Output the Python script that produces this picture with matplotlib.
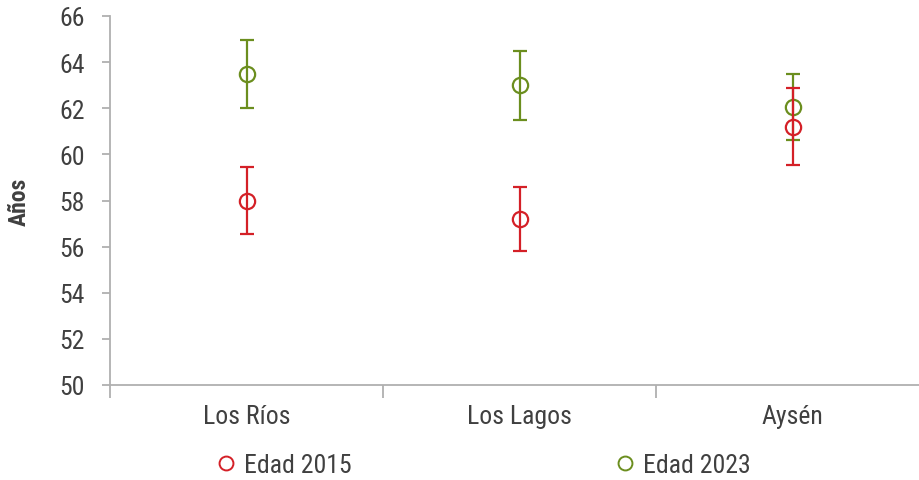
import matplotlib
matplotlib.use("Agg")
import matplotlib.pyplot as plt
from matplotlib.lines import Line2D

plt.rcParams['font.family'] = ['Roboto Condensed', 'Liberation Sans Narrow', 'Roboto', 'DejaVu Sans']

regiones = ["Los Ríos", "Los Lagos", "Aysén"]
edad_2015 = [58.0, 57.2, 61.2]
err_2015 = [1.45, 1.4, 1.68]
edad_2023 = [63.5, 63.0, 62.05]
err_2023 = [1.47, 1.5, 1.44]
yticks = list(range(50, 67, 2))

RED = "#D42027"
GREEN = "#6B8E1E"
TXT = "#404040"
AX = "#B0B0B0"

fig = plt.figure(figsize=(9.2, 4.81), dpi=100)
ax = fig.add_axes([110 / 920, 1 - 386 / 481, 810 / 920, (386 - 17) / 481])

x = list(range(len(regiones)))
ax.errorbar(x, edad_2015, yerr=err_2015, fmt="o", color=RED, mfc="none",
            mec=RED, ms=11, mew=1.6, elinewidth=1.6, capsize=5, capthick=1.6, zorder=3)
ax.errorbar(x, edad_2023, yerr=err_2023, fmt="o", color=GREEN, mfc="none",
            mec=GREEN, ms=11, mew=1.6, elinewidth=1.6, capsize=5, capthick=1.6, zorder=2)

ax.set_ylim(50, 66)
ax.set_yticks(yticks)
ax.set_xlim(-0.5, 2.467)
ax.set_xticks(x)
ax.set_xticklabels(regiones)
ax.set_xticks([-0.5, 0.5, 1.5], minor=True)

for s in ["top", "right"]:
    ax.spines[s].set_visible(False)
for s in ["left", "bottom"]:
    ax.spines[s].set_color(AX)
    ax.spines[s].set_linewidth(1.3)

ax.tick_params(axis="y", colors=AX, labelcolor=TXT, labelsize=18.5, length=6, width=1.3, pad=12)
ax.tick_params(axis="x", which="major", length=0, labelcolor=TXT, labelsize=18.5, pad=14)
ax.tick_params(axis="x", which="minor", length=9, width=1.3, colors=AX)

ax.set_ylabel("Años", fontsize=17, fontweight="bold", color=TXT, labelpad=21)

handles = [
    Line2D([], [], marker="o", ls="none", mfc="none", mec=RED, ms=10, mew=1.4, label="Edad 2015"),
    Line2D([], [], marker="o", ls="none", mfc="none", mec=GREEN, ms=10, mew=1.4, label="Edad 2023"),
]
fig.legend(handles=handles, loc="center", bbox_to_anchor=(0.522, 1 - 466 / 481), ncol=2,
           frameon=False, fontsize=18.5, labelcolor=TXT, columnspacing=10.05,
           handletextpad=0.1, handlelength=1.2)

fig.savefig("out.png", dpi=100)
